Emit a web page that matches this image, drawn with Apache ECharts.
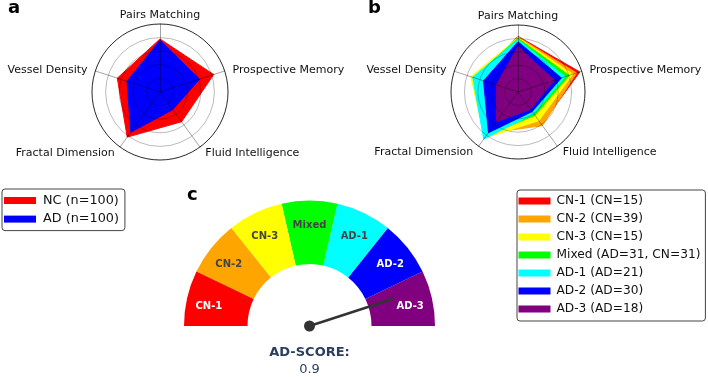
<!DOCTYPE html>
<html>
<head>
<meta charset="utf-8">
<script src="https://cdn.jsdelivr.net/npm/echarts@6/dist/echarts.min.js"></script>
<style>
  html, body { margin: 0; padding: 0; background: #fff; }
  #chart { width: 708px; height: 377px; }
</style>
</head>
<body>
<div id="chart"></div>
<script>
// Ejes del radar (orden antihorario desde arriba)
const ejes = ['Pairs Matching', 'Vessel Density', 'Fractal Dimension', 'Fluid Intelligence', 'Prospective Memory'];

// Panel a: NC vs AD
const gruposA = ['NC (n=100)', 'AD (n=100)'];
const coloresA = ['#ff0000', '#0000ff'];
const valoresNC = [0.78, 0.66, 0.82, 0.54, 0.83];
const valoresAD = [0.76, 0.51, 0.73, 0.32, 0.61];

// Panel b: subgrupos
const gruposB = ['CN-1 (CN=15)', 'CN-2 (CN=39)', 'CN-3 (CN=15)', 'Mixed (AD=31, CN=31)', 'AD-1 (AD=21)', 'AD-2 (AD=30)', 'AD-3 (AD=18)'];
const coloresB = ['#ff0000', '#ffa500', '#ffff00', '#00ff00', '#00ffff', '#0000ff', '#800080'];
const valoresCN1 = [0.83, 0.64, 0.72, 0.60, 0.97];
const valoresCN2 = [0.82, 0.68, 0.76, 0.62, 0.92];
const valoresCN3 = [0.81, 0.74, 0.85, 0.53, 0.86];
const valoresMixed = [0.80, 0.70, 0.80, 0.43, 0.80];
const valoresAD1 = [0.78, 0.71, 0.87, 0.40, 0.74];
const valoresAD2 = [0.75, 0.54, 0.75, 0.36, 0.68];
const valoresAD3 = [0.68, 0.34, 0.55, 0.32, 0.57];

// Panel c: indicador AD-SCORE
const segmentos = ['CN-1', 'CN-2', 'CN-3', 'Mixed', 'AD-1', 'AD-2', 'AD-3'];
const textoSegmento = ['#ffffff', '#444444', '#444444', '#444444', '#444444', '#ffffff', '#ffffff'];
const adScore = 0.9;

const fuente = 'DejaVu Sans';

document.addEventListener('DOMContentLoaded', function() {
    const chart = echarts.init(document.getElementById('chart'));

    // estilo de cada nombre de eje (ajuste fino de la posición)
    function claveEje(nombre) {
        if (nombre === 'Pairs Matching') return 't';
        if (nombre === 'Fractal Dimension' || nombre === 'Fluid Intelligence') return 'b';
        return 's';
    }

    function radarBase(center, radius) {
        return {
            center: center,
            radius: radius,
            startAngle: 90,
            shape: 'circle',
            splitNumber: 5,
            z: 3,
            indicator: ejes.map(nombre => ({ name: nombre, min: 0, max: 1 })),
            axisNameGap: 4,
            axisName: {
                color: '#111',
                fontFamily: fuente,
                fontSize: 11,
                formatter: function(nombre) {
                    return '{' + claveEje(nombre) + '|' + nombre + '}';
                },
                rich: {
                    t: { fontFamily: fuente, fontSize: 11, color: '#111', lineHeight: 10 },
                    s: { fontFamily: fuente, fontSize: 11, color: '#111', padding: [0, 4, 0, 4] },
                    b: { fontFamily: fuente, fontSize: 11, color: '#111', padding: [6, 3, 0, 3] }
                }
            },
            axisLine: {
                lineStyle: { color: 'rgba(0,0,0,0.45)', width: 0.8 }
            },
            splitLine: {
                lineStyle: {
                    color: ['rgba(0,0,0,0)', 'rgba(0,0,0,0.3)', 'rgba(0,0,0,0.3)', 'rgba(0,0,0,0.3)', 'rgba(0,0,0,0.3)', '#111'],
                    width: 0.9
                }
            },
            splitArea: { show: false },
            axisTick: { show: false },
            axisLabel: { show: false }
        };
    }

    function radarItem(nombre, valores, color) {
        return {
            name: nombre,
            value: valores,
            itemStyle: { color: color },
            lineStyle: { color: color, width: 1 },
            areaStyle: { color: color, opacity: 1 }
        };
    }

    const seriesB = [valoresCN1, valoresCN2, valoresCN3, valoresMixed, valoresAD1, valoresAD2, valoresAD3];

    const leyendaBase = {
        orient: 'vertical',
        icon: 'rect',
        itemWidth: 32,
        itemHeight: 7,
        borderColor: '#444',
        borderWidth: 1,
        borderRadius: 3,
        selectedMode: false
    };

    const letra = { fontFamily: fuente, fontSize: 18, fontWeight: 'bold', color: '#000' };

    const option = {
        animation: false,
        title: [
            { text: 'a', left: 3, top: -6, textStyle: letra },
            { text: 'b', left: 363, top: -6, textStyle: letra },
            { text: 'c', left: 182, top: 181, textStyle: letra }
        ],
        legend: [
            Object.assign({}, leyendaBase, {
                data: gruposA,
                left: 2,
                top: 189,
                itemGap: 5.6,
                padding: [5, 6, 5, 2],
                textStyle: { fontFamily: fuente, fontSize: 12.8, color: '#111', lineHeight: 13, padding: [0, 0, 0, 2] }
            }),
            Object.assign({}, leyendaBase, {
                data: gruposB,
                left: 517,
                top: 190,
                itemGap: 5,
                padding: [4.5, 5, 5.5, 1.5],
                textStyle: { fontFamily: fuente, fontSize: 12.2, color: '#111', lineHeight: 13, padding: [0, 0, 0, 1] }
            })
        ],
        radar: [
            radarBase([160, 92], 68),
            radarBase([518, 92], 67)
        ],
        series: [
            {
                type: 'radar',
                radarIndex: 0,
                symbol: 'none',
                z: 2,
                silent: true,
                data: [
                    radarItem(gruposA[0], valoresNC, coloresA[0]),
                    radarItem(gruposA[1], valoresAD, coloresA[1])
                ]
            },
            {
                type: 'radar',
                radarIndex: 1,
                symbol: 'none',
                z: 2,
                silent: true,
                data: gruposB.map((nombre, i) => radarItem(nombre, seriesB[i], coloresB[i]))
            },
            {
                type: 'gauge',
                center: [309.5, 326],
                radius: 125.5,
                startAngle: 180,
                endAngle: 0,
                min: 0,
                max: 1,
                z: 2,
                axisLine: {
                    lineStyle: {
                        width: 63.5,
                        color: coloresB.map((c, i) => [(i + 1) / segmentos.length, c])
                    }
                },
                axisTick: { show: false },
                splitLine: { show: false },
                axisLabel: { show: false },
                pointer: {
                    icon: 'rect',
                    width: 2.5,
                    length: 89,
                    itemStyle: { color: '#333' }
                },
                anchor: {
                    show: true,
                    showAbove: true,
                    size: 11,
                    itemStyle: { color: '#333' }
                },
                title: {
                    offsetCenter: [0, 27],
                    fontFamily: fuente,
                    fontSize: 13,
                    fontWeight: 'bold',
                    color: '#2a3f5f'
                },
                detail: {
                    offsetCenter: [0, 44],
                    fontFamily: fuente,
                    fontSize: 13,
                    fontWeight: 'normal',
                    color: '#2a3f5f',
                    formatter: '{value}'
                },
                data: [{ value: adScore, name: 'AD-SCORE:' }]
            },
            {
                // solo etiquetas de los segmentos
                type: 'pie',
                center: [309.5, 329],
                radius: [75, 125.5],
                startAngle: 180,
                clockwise: true,
                silent: true,
                avoidLabelOverlap: false,
                z: 3,
                itemStyle: { color: 'rgba(0,0,0,0)' },
                labelLine: { show: false },
                label: {
                    show: true,
                    position: 'inside',
                    fontFamily: fuente,
                    fontSize: 10,
                    fontWeight: 'bold'
                },
                data: segmentos.map((nombre, i) => ({
                    name: nombre,
                    value: 1,
                    label: { color: textoSegmento[i] }
                })).concat([{ name: '', value: segmentos.length, label: { show: false } }])
            }
        ]
    };

    chart.setOption(option);
});
</script>
</body>
</html>
